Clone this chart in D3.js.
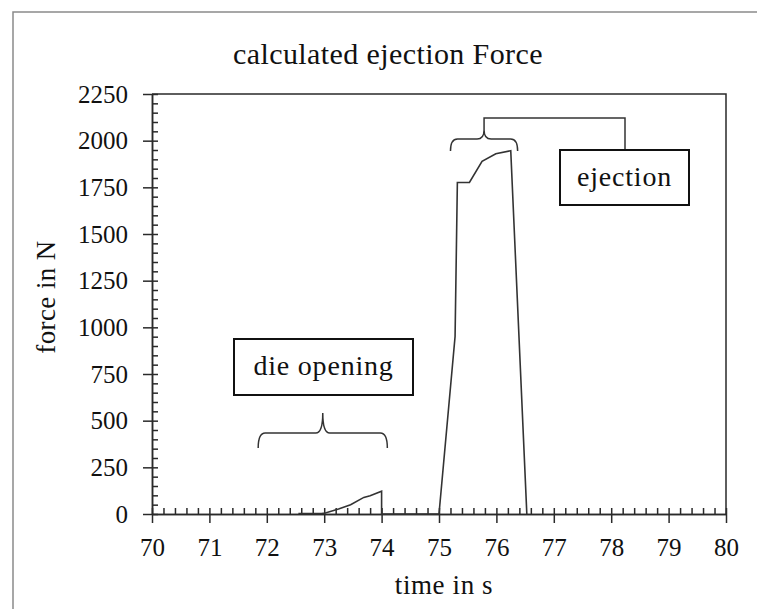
<html>

<head>
    <meta charset="utf-8" />
    <script src="https://cdn.jsdelivr.net/npm/d3@7"></script>
    <style>
        body { margin: 0; background: #fff; }
        text { font-family: "Liberation Serif", serif; fill: #111; }
    </style>
</head>

<body>
    <script>
        // readings (s, N)
        var time = [72.55, 72.95, 73.02, 73.25, 73.46, 73.69, 73.80, 74.0, 74.0, 75.0, 75.28, 75.32, 75.53, 75.75, 75.99, 76.25, 76.53];
        var force = [3, 3, 5, 27, 50, 89, 98, 122, 0, 0, 951, 1776, 1776, 1889, 1930, 1946, 0];
        var xTicks = [70, 71, 72, 73, 74, 75, 76, 77, 78, 79, 80];
        var yTicks = [0, 250, 500, 750, 1000, 1250, 1500, 1750, 2000, 2250];
        var title = 'calculated ejection Force';
        var xLabel = 'time in s';
        var yLabel = 'force in N';
        var notes = ['die opening', 'ejection'];

        var width = 757;
        var height = 609;
        var paddings = { top: 94, right: 31, bottom: 95, left: 152 };
        var ink = '#2a2a2a';

        var svg = d3.select('body')
            .append('svg')
            .attr('width', width)
            .attr('height', height);

        // page border (top + left)
        svg.append('path')
            .attr('d', 'M13,' + height + 'V12H' + width)
            .attr('fill', 'none')
            .attr('stroke', '#8a8a8a')
            .attr('stroke-width', 1.5);

        var x = d3.scaleLinear().domain([70, 80]).range([paddings.left, width - paddings.right]);
        var y = d3.scaleLinear().domain([0, 2250]).range([height - paddings.bottom, paddings.top]);

        // frame top + right
        svg.append('path')
            .attr('d', 'M' + x(70) + ',' + y(2250) + 'H' + x(80) + 'V' + y(0))
            .attr('fill', 'none')
            .attr('stroke', ink)
            .attr('stroke-width', 1.5);

        function styleAxis(g) {
            g.selectAll('path, line').attr('stroke', ink).attr('stroke-width', 1.5);
            g.selectAll('text').attr('fill', '#111').style('font-family', '"Liberation Serif", serif');
        }

        // x minor ticks (inward)
        svg.append('g')
            .attr('transform', 'translate(0,' + y(0) + ')')
            .call(d3.axisTop(x).tickValues(d3.range(70, 80.01, 0.2)).tickSize(6).tickFormat('').tickSizeOuter(0))
            .call(styleAxis);
        // x major ticks
        svg.append('g')
            .attr('transform', 'translate(0,' + y(0) + ')')
            .call(d3.axisBottom(x).tickValues(xTicks).tickSize(9).tickPadding(15).tickSizeOuter(0).tickFormat(d3.format('d')))
            .call(styleAxis)
            .selectAll('text').attr('font-size', 25);

        // y minor ticks (inward)
        svg.append('g')
            .attr('transform', 'translate(' + x(70) + ',0)')
            .call(d3.axisRight(y).tickValues(d3.range(0, 2251, 50)).tickSize(6).tickFormat('').tickSizeOuter(0))
            .call(styleAxis);
        // y major ticks
        svg.append('g')
            .attr('transform', 'translate(' + x(70) + ',0)')
            .call(d3.axisLeft(y).tickValues(yTicks).tickSize(9).tickPadding(15).tickSizeOuter(0).tickFormat(d3.format('d')))
            .call(styleAxis)
            .selectAll('text').attr('font-size', 25);

        // curve
        var line = d3.line()
            .x(function (d, i) { return x(time[i]); })
            .y(function (d) { return y(d); });
        svg.append('path')
            .datum(force)
            .attr('d', line)
            .attr('fill', 'none')
            .attr('stroke', '#333')
            .attr('stroke-width', 1.6);

        // titles
        svg.append('text')
            .attr('x', 388).attr('y', 64)
            .attr('text-anchor', 'middle')
            .attr('font-size', 30)
            .attr('letter-spacing', 0.4)
            .text(title);
        svg.append('text')
            .attr('x', 444).attr('y', 594)
            .attr('text-anchor', 'middle')
            .attr('font-size', 27)
            .attr('letter-spacing', 0.6)
            .text(xLabel);
        svg.append('text')
            .attr('transform', 'translate(55,297) rotate(-90)')
            .attr('text-anchor', 'middle')
            .attr('font-size', 27)
            .attr('letter-spacing', 0.4)
            .text(yLabel);

        // curly brace opening downwards
        function brace(t1, t2, lineY, tipY, pointY) {
            var x1 = x(t1), x2 = x(t2), cx = (x1 + x2) / 2, r = 7;
            return 'M' + x1 + ',' + tipY +
                'Q' + x1 + ',' + lineY + ' ' + (x1 + r) + ',' + lineY +
                'L' + (cx - r) + ',' + lineY +
                'Q' + cx + ',' + lineY + ' ' + cx + ',' + pointY +
                'Q' + cx + ',' + lineY + ' ' + (cx + r) + ',' + lineY +
                'L' + (x2 - r) + ',' + lineY +
                'Q' + x2 + ',' + lineY + ' ' + x2 + ',' + tipY;
        }

        var ann = svg.append('g').attr('fill', 'none').attr('stroke', '#333').attr('stroke-width', 1.5);
        ann.append('path').attr('d', brace(71.85, 74.1, 433, 448, 413));
        ann.append('path').attr('d', brace(75.2, 76.37, 139, 151, 130));
        var ecx = (x(75.2) + x(76.37)) / 2;
        ann.append('path').attr('d', 'M' + ecx + ',130V118H625V150');

        // note boxes
        var boxes = [
            { text: notes[0], x: 234, y: 339, w: 179, h: 56 },
            { text: notes[1], x: 560, y: 150, w: 129, h: 55 }
        ];
        var bg = svg.selectAll('g.note')
            .data(boxes)
            .enter()
            .append('g')
            .attr('class', 'note');
        bg.append('rect')
            .attr('x', function (d) { return d.x; })
            .attr('y', function (d) { return d.y; })
            .attr('width', function (d) { return d.w; })
            .attr('height', function (d) { return d.h; })
            .attr('fill', '#fff')
            .attr('stroke', '#111')
            .attr('stroke-width', 2);
        bg.append('text')
            .attr('x', function (d) { return d.x + d.w / 2; })
            .attr('y', function (d) { return d.y + d.h / 2 + 8; })
            .attr('text-anchor', 'middle')
            .attr('font-size', 28)
            .attr('letter-spacing', 0.8)
            .text(function (d) { return d.text; });
    </script>
</body>

</html>
